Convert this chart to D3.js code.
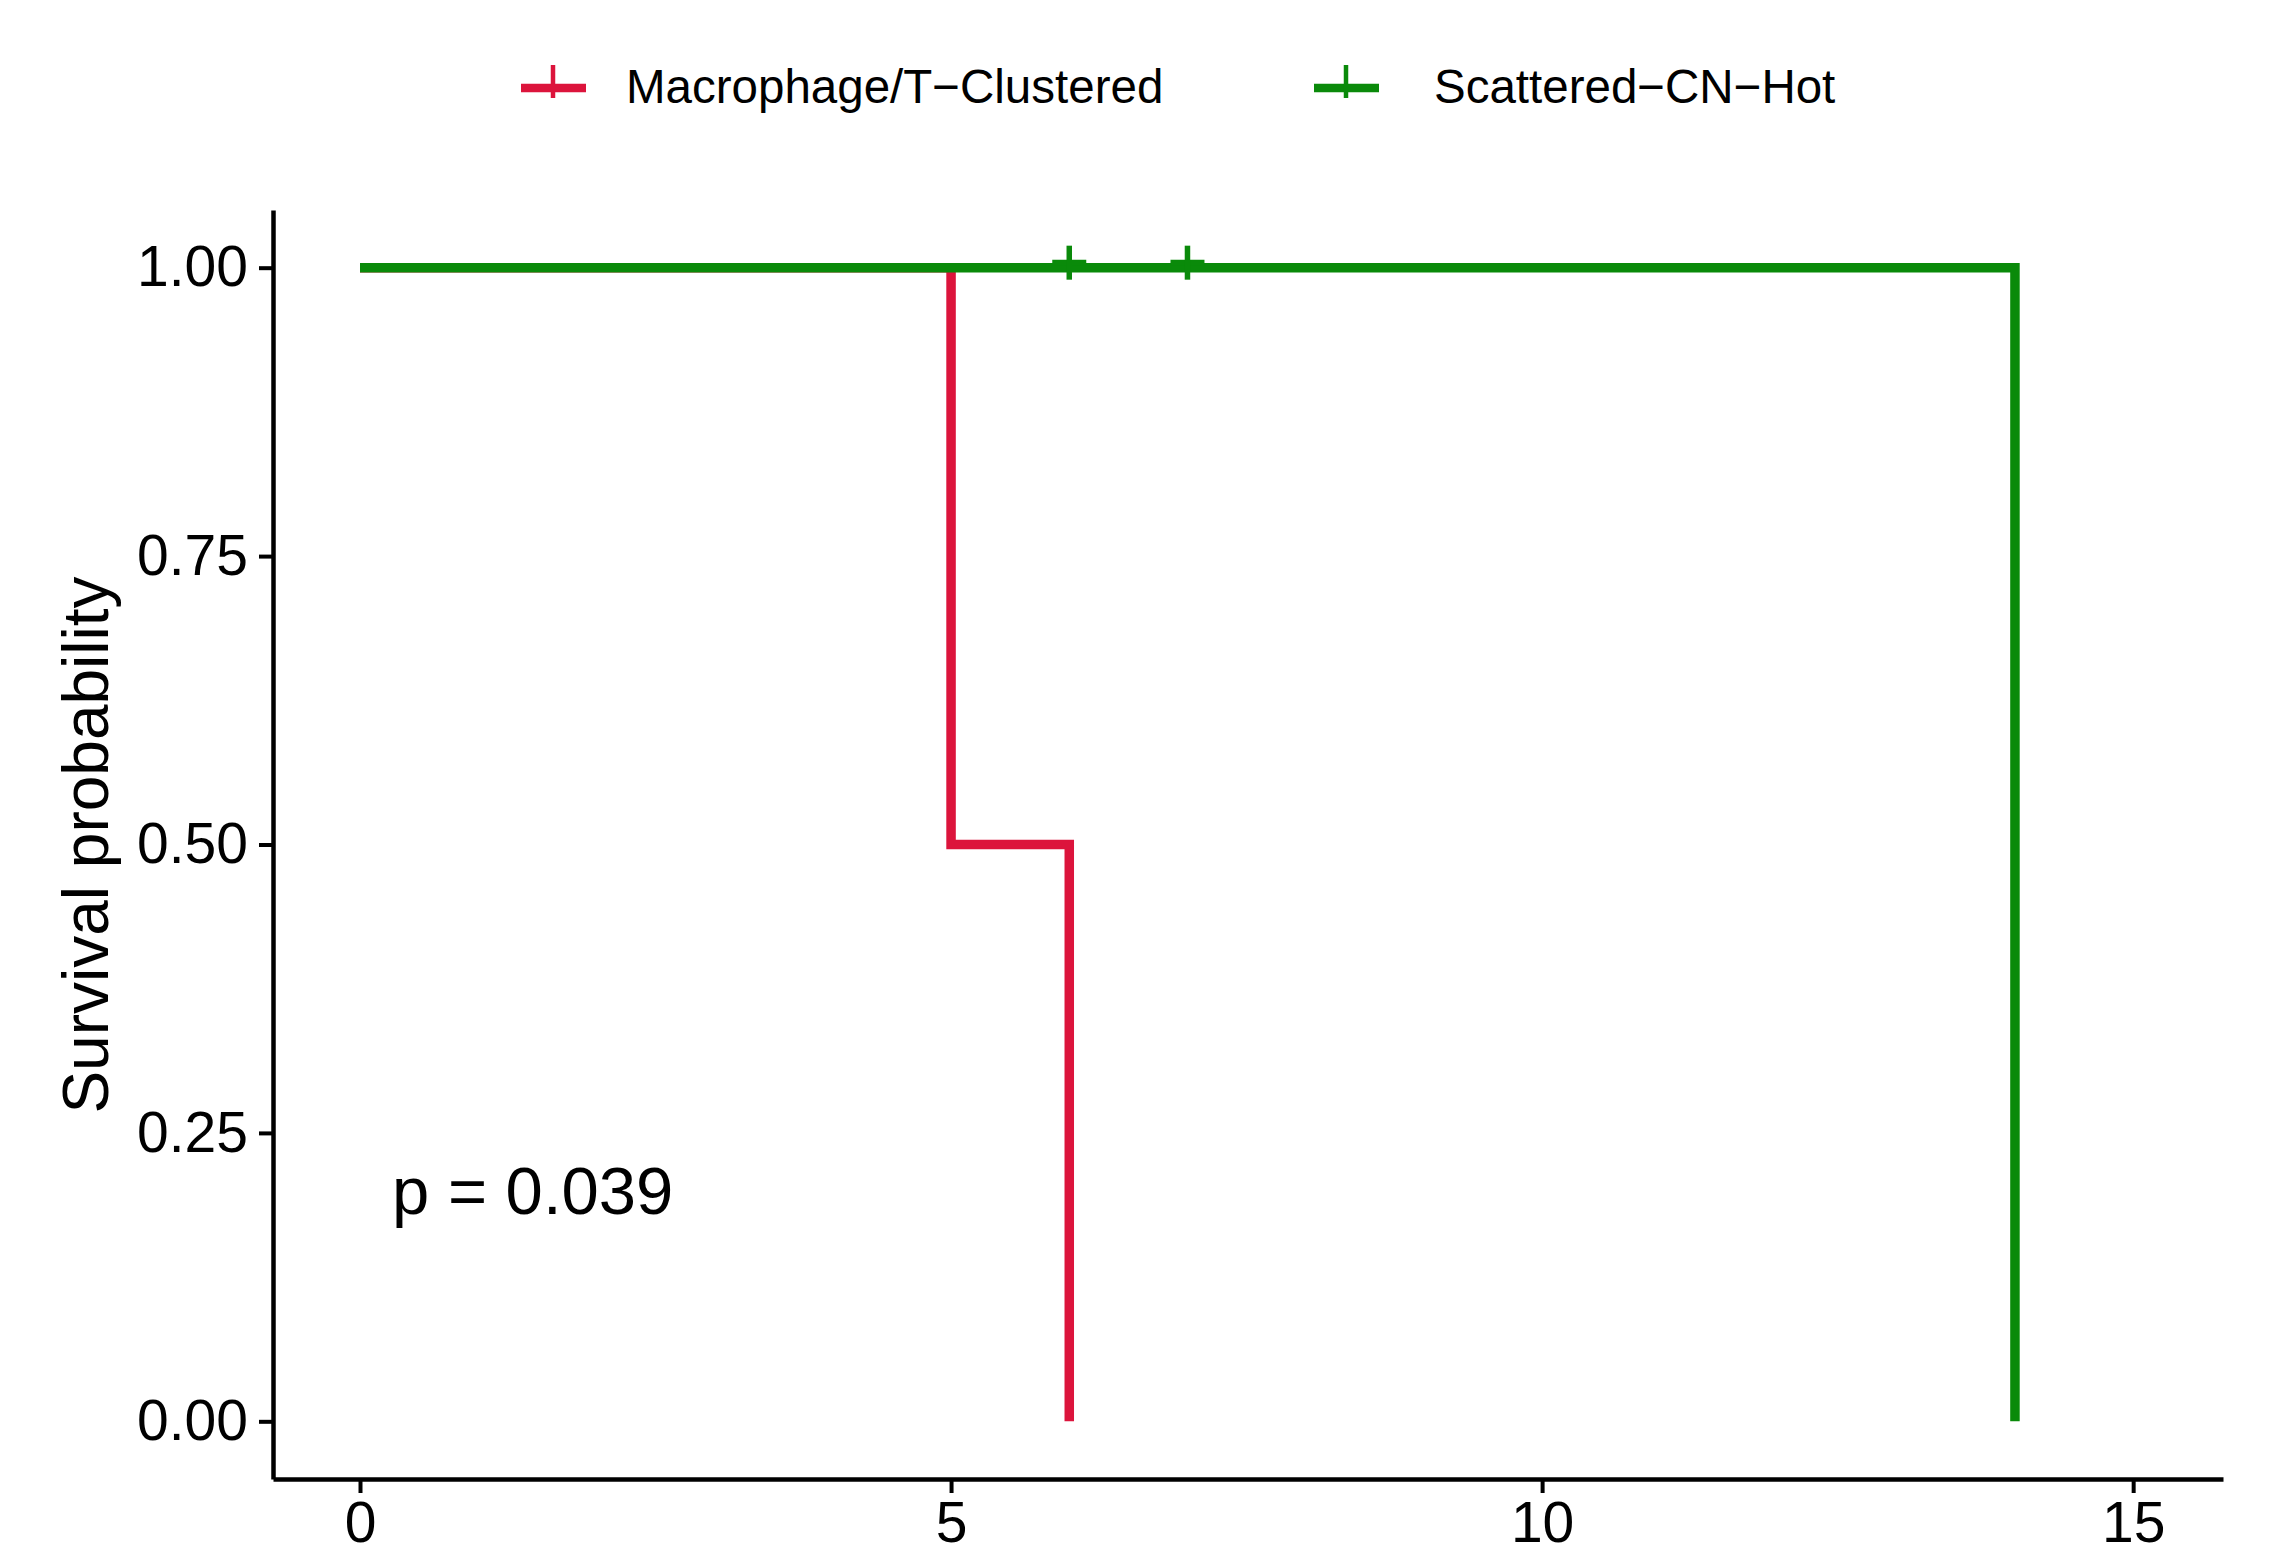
<!DOCTYPE html>
<html>
<head>
<meta charset="utf-8">
<script src="https://cdn.jsdelivr.net/npm/d3@7"></script>
<style>
  html, body { margin: 0; padding: 0; background: #ffffff; }
  svg { display: block; font-family: "Liberation Sans", Arial, Helvetica, sans-serif; }
</style>
</head>
<body>
<script>
// ---- Data ----
const seriesNames = ["Macrophage/T\u2212Clustered", "Scattered\u2212CN\u2212Hot"];
const seriesColors = ["#DC143C", "#0A8A0A"];
// Kaplan–Meier step points (time, survival)
const redTimes = [0, 5, 6];
const redSurv = [1.0, 0.5, 0.0];
const greenTimes = [0, 14];
const greenSurv = [1.0, 0.0];
// censor marks
const greenCensorTimes = [6, 7];
const greenCensorSurv = [1.0, 1.0];
const redCensorTimes = [];
const redCensorSurv = [];
const xTicks = [0, 5, 10, 15];
const yTicks = [0, 0.25, 0.5, 0.75, 1.0];
const xLimits = [-0.736, 15.76];
const yLimits = [-0.05, 1.05];
const yTitle = "Survival probability";
const pLabel = "p = 0.039";

// ---- Layout ----
const W = 2269, H = 1547;
const svg = d3.select("body").append("svg").attr("width", W).attr("height", H);
svg.append("rect").attr("width", W).attr("height", H).attr("fill", "#fff");

const x = d3.scaleLinear().domain(xLimits).range([273, 2223]);
const y = d3.scaleLinear().domain(yLimits).range([1479, 210]);

const lineW = 9.5;
const stepLine = d3.line().x(d => x(d[0])).y(d => y(d[1])).curve(d3.curveStepAfter);

const series = [
  { name: seriesNames[0], color: seriesColors[0], pts: redTimes.map((t, i) => [t, redSurv[i]]),
    cens: redCensorTimes.map((t, i) => [t, redCensorSurv[i]]) },
  { name: seriesNames[1], color: seriesColors[1], pts: greenTimes.map((t, i) => [t, greenSurv[i]]),
    cens: greenCensorTimes.map((t, i) => [t, greenCensorSurv[i]]) }
];

const plot = svg.append("g");
series.forEach(s => {
  plot.append("path").attr("d", stepLine(s.pts)).attr("fill", "none")
    .attr("stroke", s.color).attr("stroke-width", lineW).attr("stroke-linejoin", "miter").attr("stroke-linecap", "butt");
});
series.forEach(s => {
  const g = plot.append("g");
  s.cens.forEach(c => {
    const cx = x(c[0]), cy = y(c[1]) - 5;
    g.append("line").attr("x1", cx - 17).attr("x2", cx + 17).attr("y1", cy).attr("y2", cy)
      .attr("stroke", s.color).attr("stroke-width", 6);
    g.append("line").attr("x1", cx).attr("x2", cx).attr("y1", cy - 17).attr("y2", cy + 17)
      .attr("stroke", s.color).attr("stroke-width", 5.5);
  });
});

// ---- Axes ----
const xAxis = d3.axisBottom(x).tickValues(xTicks).tickSize(14).tickSizeOuter(0).tickPadding(9).tickFormat(d3.format("d"));
const yAxis = d3.axisLeft(y).tickValues(yTicks).tickSize(14).tickSizeOuter(0).tickPadding(11).tickFormat(d3.format(".2f"));

const gx = svg.append("g").attr("transform", `translate(0,${y(yLimits[0])})`).call(xAxis);
const gy = svg.append("g").attr("transform", `translate(${x(xLimits[0])},0)`).call(yAxis);
[gx, gy].forEach(g => {
  g.selectAll("path.domain").attr("stroke", "#000").attr("stroke-width", 4.5);
  g.selectAll(".tick line").attr("stroke", "#000").attr("stroke-width", 4);
  g.selectAll(".tick text").attr("fill", "#000").style("font-size", "57px")
    .style("font-family", "'Liberation Sans', Arial, sans-serif");
});

// y title
svg.append("text").attr("transform", `translate(108,845) rotate(-90)`)
  .attr("text-anchor", "middle").attr("fill", "#000").style("font-size", "64px").text(yTitle);

// p value
svg.append("text").attr("x", 392).attr("y", 1214).attr("fill", "#000").style("font-size", "67px").text(pLabel);

// ---- Legend ----
const legendItems = [
  { x0: 521, tx: 626 },
  { x0: 1314, tx: 1434 }
];
const legend = svg.append("g");
series.forEach((s, i) => {
  const li = legendItems[i];
  const ly = 88;
  legend.append("line").attr("x1", li.x0).attr("x2", li.x0 + 65).attr("y1", ly).attr("y2", ly)
    .attr("stroke", s.color).attr("stroke-width", 8.5);
  legend.append("line").attr("x1", li.x0 + 32).attr("x2", li.x0 + 32).attr("y1", ly - 23).attr("y2", ly + 10)
    .attr("stroke", s.color).attr("stroke-width", 4.5);
  legend.append("text").attr("x", li.tx).attr("y", ly + 15).attr("fill", "#000")
    .style("font-size", "47.5px").text(s.name);
});
</script>
</body>
</html>
